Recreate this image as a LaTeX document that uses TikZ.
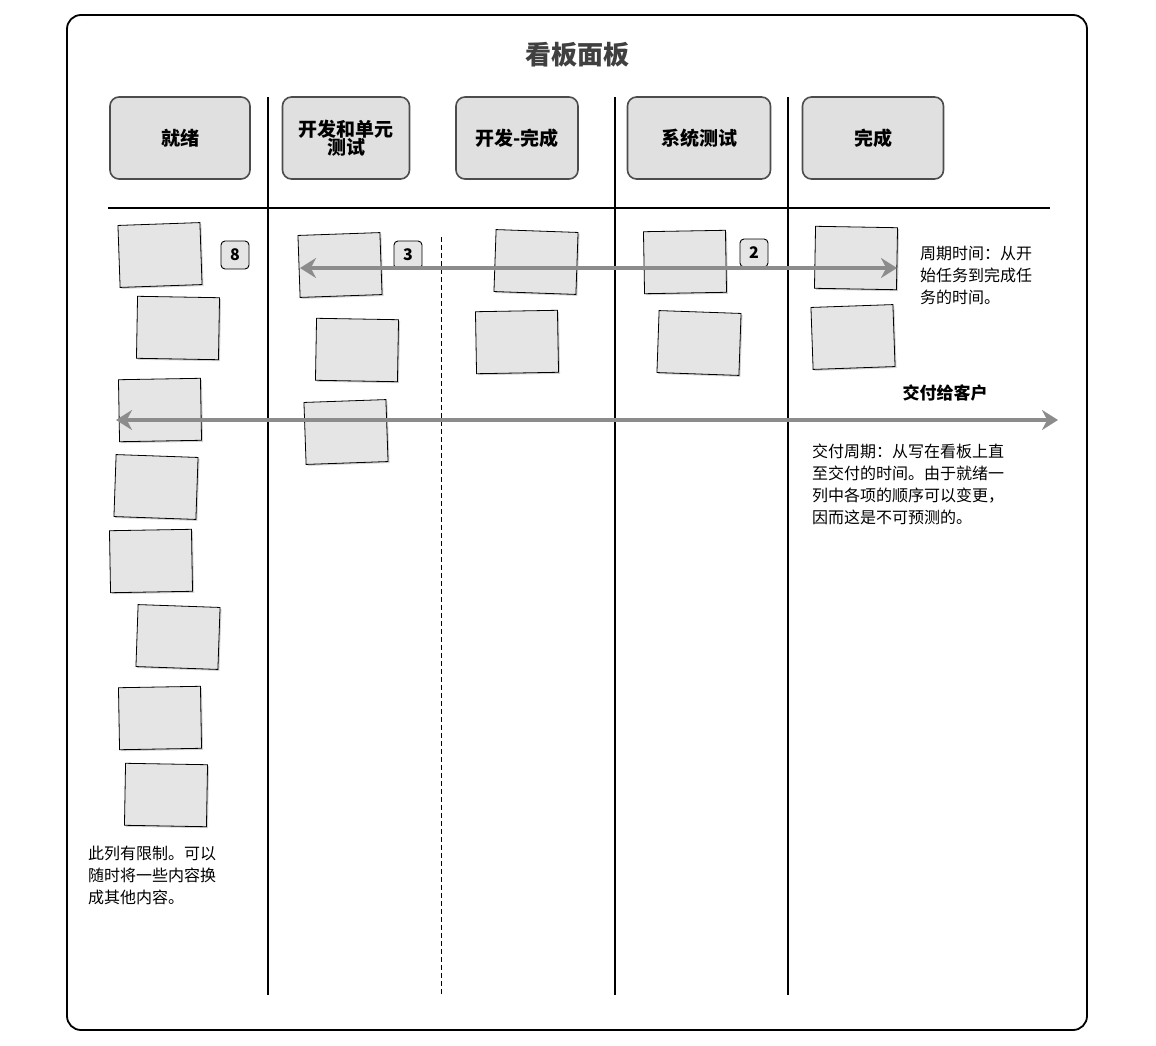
\documentclass[tikz,border=0pt]{standalone}
\usepackage{fontspec}
\setmainfont{Noto Sans CJK SC}
\usetikzlibrary{arrows.meta,shadows}
\begin{document}
\begin{tikzpicture}[x=1pt,y=-1pt,
  hdr/.style={draw=black!70,line width=1.6pt,rounded corners=9pt,fill=black!12,minimum width=#1,minimum height=82pt,align=center,font=\bfseries\fontsize{19}{21}\selectfont},
  note/.style={draw=black,line width=0.8pt,fill=black!10,minimum width=82pt,minimum height=62pt,drop shadow={shadow xshift=1.5pt,shadow yshift=-1.5pt,opacity=0.35}},
  badge/.style={draw=black,line width=0.9pt,rounded corners=4pt,fill=black!10,minimum size=28pt,font=\bfseries\fontsize{16}{18}\selectfont},
  col/.style={line width=1.2pt},
  txt/.style={align=left,anchor=north west,font=\fontsize{16}{22}\selectfont,inner sep=0pt},
  garrow/.style={black!45,line width=4.5pt,{Stealth[length=16pt,width=20pt]}-{Stealth[length=16pt,width=20pt]}}]
\useasboundingbox (0,0) rectangle (1156,1046);
\draw[line width=1.8pt,rounded corners=14pt] (67,15) rectangle (1087,1030);
\node[font=\bfseries\fontsize{26}{28}\selectfont,text=black!75] (title) at (577,55) {看板面板};
\node[hdr=140pt] (h1) at (180,138) {就绪};
\node[hdr=127pt] (h2) at (346,138) {开发和单元\\[-3pt]测试};
\node[hdr=122pt] (h3) at (517,138) {开发-完成};
\node[hdr=143pt] (h4) at (699,138) {系统测试};
\node[hdr=141pt] (h5) at (873,138) {完成};
\draw[col] (108,208) -- (1050,208);
\foreach \x in {268,615,788} \draw[col] (\x,97) -- (\x,995);
\draw[line width=1pt,dash pattern=on 5pt off 3pt] (441,237) -- (441,995);
% notes
\foreach \x/\y/\r [count=\i] in {160/255/2,178/328/-1,160/410/1,156/487/-2,151/561/1,178/637/-2,160/718/1,166/795/-1,340/265/2,357/350/-1,346/432/2,536/262/-2,517/342/1,685/262/1,699/343/-2,856/258/-1,853/337/2}
  \node[note,rotate=\r] (n\i) at (\x,\y) {};
\node[badge] (b8) at (235,255) {8};
\node[badge] (b3) at (408,255) {3};
\node[badge] (b2) at (754,253) {2};
\coordinate (a1) at (300,268); \coordinate (a2) at (897,268);
\draw[garrow] (a1) -- (a2);
\coordinate (c1) at (116,420); \coordinate (c2) at (1058,420);
\draw[garrow] (c1) -- (c2);
\node[txt] (t1) at (920,246) {周期时间：从开\\始任务到完成任\\务的时间。};
\node[font=\bfseries\fontsize{17}{20}\selectfont] (t2) at (945,393) {交付给客户};
\node[txt] (t3) at (812,444) {交付周期：从写在看板上直\\至交付的时间。由于就绪一\\列中各项的顺序可以变更，\\因而这是不可预测的。};
\node[txt] (t4) at (88,846) {此列有限制。可以\\随时将一些内容换\\成其他内容。};
\end{tikzpicture}
\end{document}
